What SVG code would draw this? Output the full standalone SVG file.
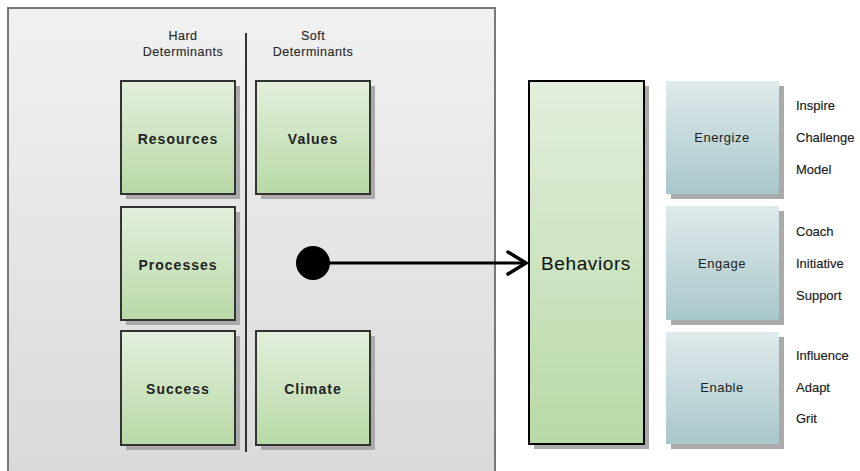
<svg xmlns="http://www.w3.org/2000/svg" width="860" height="471" viewBox="0 0 860 471">
  <defs>
    <linearGradient id="panelFill" x1="0" y1="0" x2="0" y2="1">
      <stop offset="0" stop-color="#f1f1f1"/>
      <stop offset="1" stop-color="#d9d9d9"/>
    </linearGradient>
    <linearGradient id="greenFill" x1="0" y1="0" x2="0" y2="1">
      <stop offset="0" stop-color="#e3efdc"/>
      <stop offset="1" stop-color="#b8d9a7"/>
    </linearGradient>
    <linearGradient id="blueFill" x1="0" y1="0" x2="0" y2="1">
      <stop offset="0" stop-color="#dfeaeb"/>
      <stop offset="1" stop-color="#a8c7cb"/>
    </linearGradient>
  </defs>
  <style>
    text { font-family: "Liberation Sans", Arial, sans-serif; }
    .shadow { fill: #aaaaaa; }
    .det { fill: url(#greenFill); stroke: #333; stroke-width: 2; }
    .mode { fill: url(#blueFill); }
    .head { font-size: 12.5px; fill: #2a2a2a; text-anchor: middle; letter-spacing: 0.5px; stroke: #2a2a2a; stroke-width: 0.15px; }
    .lbl { font-size: 14px; font-weight: bold; fill: #222; text-anchor: middle; letter-spacing: 1px; }
    .mlbl { font-size: 13px; fill: #222; text-anchor: middle; letter-spacing: 0.5px; }
    .item { font-size: 13px; fill: #1a1a1a; stroke: #1a1a1a; stroke-width: 0.15px; }
  </style>

  <!-- determinants panel -->
  <g id="panel">
    <rect x="8" y="8" width="487" height="475" fill="url(#panelFill)" stroke="#777" stroke-width="2"/>
    <text class="head" x="183" y="40">Hard</text>
    <text class="head" x="183" y="56">Determinants</text>
    <text class="head" x="313" y="40">Soft</text>
    <text class="head" x="313" y="56">Determinants</text>
    <line x1="246" y1="33" x2="246" y2="452" stroke="#333" stroke-width="2"/>
  </g>

  <g id="resources">
    <rect class="shadow" x="126" y="86" width="114" height="113"/>
    <rect class="det" x="121" y="81" width="114" height="113"/>
    <text class="lbl" x="178" y="144">Resources</text>
  </g>
  <g id="values">
    <rect class="shadow" x="261" y="86" width="114" height="113"/>
    <rect class="det" x="256" y="81" width="114" height="113"/>
    <text class="lbl" x="313" y="144">Values</text>
  </g>
  <g id="processes">
    <rect class="shadow" x="126" y="212" width="114" height="113"/>
    <rect class="det" x="121" y="207" width="114" height="113"/>
    <text class="lbl" x="178" y="270">Processes</text>
  </g>
  <g id="success">
    <rect class="shadow" x="126" y="336" width="114" height="114"/>
    <rect class="det" x="121" y="331" width="114" height="114"/>
    <text class="lbl" x="178" y="394">Success</text>
  </g>
  <g id="climate">
    <rect class="shadow" x="261" y="336" width="114" height="114"/>
    <rect class="det" x="256" y="331" width="114" height="114"/>
    <text class="lbl" x="313" y="394">Climate</text>
  </g>

  <!-- behaviors -->
  <g id="behaviors">
    <rect class="shadow" x="534" y="86" width="115" height="363"/>
    <rect x="529" y="81" width="115" height="363" fill="url(#greenFill)" stroke="#000" stroke-width="2"/>
    <text x="586" y="270" font-size="19" fill="#111" text-anchor="middle" letter-spacing="0.6">Behaviors</text>
  </g>

  <g id="energize">
    <rect class="shadow" x="671" y="86" width="113" height="113"/>
    <rect class="mode" x="666" y="81" width="113" height="113"/>
    <text class="mlbl" x="722" y="142">Energize</text>
    <text class="item" x="796" y="110">Inspire</text>
    <text class="item" x="796" y="142">Challenge</text>
    <text class="item" x="796" y="174">Model</text>
  </g>
  <g id="engage">
    <rect class="shadow" x="671" y="211" width="113" height="114"/>
    <rect class="mode" x="666" y="206" width="113" height="114"/>
    <text class="mlbl" x="722" y="268">Engage</text>
    <text class="item" x="796" y="236">Coach</text>
    <text class="item" x="796" y="268">Initiative</text>
    <text class="item" x="796" y="300">Support</text>
  </g>
  <g id="enable">
    <rect class="shadow" x="671" y="337" width="113" height="112"/>
    <rect class="mode" x="666" y="332" width="113" height="112"/>
    <text class="mlbl" x="722" y="392">Enable</text>
    <text class="item" x="796" y="360">Influence</text>
    <text class="item" x="796" y="392">Adapt</text>
    <text class="item" x="796" y="423">Grit</text>
  </g>

  <!-- connector -->
  <g id="connectors">
    <circle cx="313" cy="263" r="17" fill="#000"/>
    <line x1="313" y1="263" x2="525" y2="263" stroke="#000" stroke-width="3"/>
    <polyline points="508,252 526,263 508,274" fill="none" stroke="#000" stroke-width="3.5" stroke-linecap="round" stroke-linejoin="miter"/>
  </g>
</svg>
